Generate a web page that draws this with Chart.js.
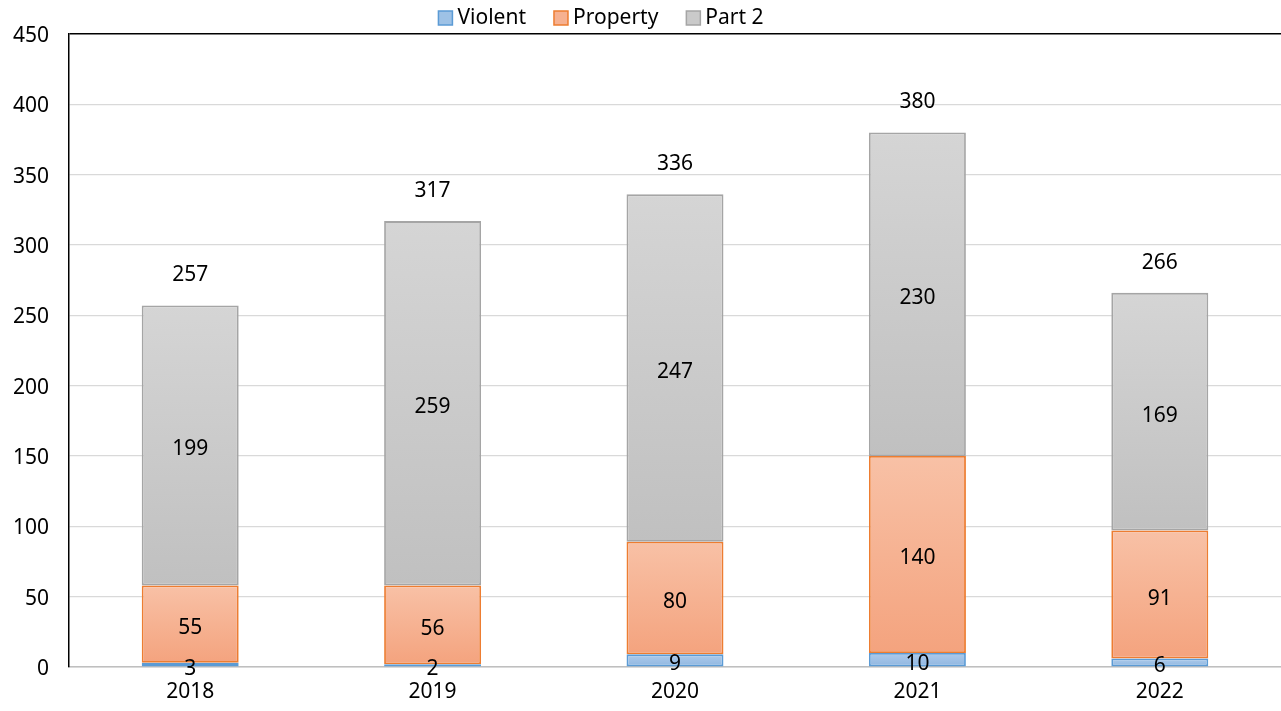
<!DOCTYPE html>
<html>
<head>
<meta charset="utf-8">
<script src="https://cdn.jsdelivr.net/npm/chart.js@4.4.0/dist/chart.umd.min.js"></script>
<style>
  html, body { margin: 0; background: #fff; }
</style>
</head>
<body>
<canvas id="chart" width="1281" height="711"></canvas>
<script>
// données
const years = ['2018', '2019', '2020', '2021', '2022'];
const violent = [3, 2, 9, 10, 6];
const property = [55, 56, 80, 140, 91];
const part2 = [199, 259, 247, 230, 169];
const yTicks = [0, 50, 100, 150, 200, 250, 300, 350, 400, 450];

const FONT = '"Noto Sans", "Open Sans", sans-serif';
const FONT_SIZE = 21;

// dégradé vertical par barre (haut clair -> bas plus foncé)
function barGradient(top, bottom, flat) {
    return function (context) {
        const chart = context.chart;
        const y = chart.scales.y;
        if (!y || context.type !== 'data') return flat;
        const i = context.dataIndex;
        const d = context.datasetIndex;
        let start = 0;
        for (let k = 0; k < d; k++) start += chart.data.datasets[k].data[i];
        const end = start + chart.data.datasets[d].data[i];
        const y0 = y.getPixelForValue(end);
        const y1 = y.getPixelForValue(start);
        if (!isFinite(y0) || !isFinite(y1) || y0 === y1) return flat;
        const g = chart.ctx.createLinearGradient(0, y0, 0, y1);
        g.addColorStop(0, top);
        g.addColorStop(1, bottom);
        return g;
    };
}

// légende dessinée à la main (espacement type Excel)
const legendPlugin = {
    id: 'excelLegend',
    afterDraw(chart) {
        const ctx = chart.ctx;
        const items = chart.data.datasets.map(ds => ({
            text: ds.label, fill: ds.legendColor, stroke: ds.borderColor
        }));
        ctx.save();
        ctx.font = FONT_SIZE + 'px ' + FONT;
        ctx.textBaseline = 'middle';
        const box = 14, gapText = 5, gapItem = 28;
        let total = 0;
        items.forEach((it, idx) => {
            it.w = ctx.measureText(it.text).width;
            total += box + gapText + it.w + (idx < items.length - 1 ? gapItem : 0);
        });
        let x = 601 - total / 2;
        const cy = 18;
        items.forEach(it => {
            ctx.fillStyle = it.fill;
            ctx.fillRect(x, cy - box / 2, box, box);
            ctx.strokeStyle = it.stroke;
            ctx.lineWidth = 1.5;
            ctx.strokeRect(x, cy - box / 2, box, box);
            ctx.fillStyle = '#000';
            ctx.textAlign = 'left';
            ctx.fillText(it.text, x + box + gapText, cy);
            x += box + gapText + it.w + gapItem;
        });
        ctx.restore();
    }
};

// étiquettes de valeurs au centre des segments et totaux au-dessus
const labelsPlugin = {
    id: 'barLabels',
    afterDatasetsDraw(chart) {
        const ctx = chart.ctx;
        ctx.save();
        ctx.font = FONT_SIZE + 'px ' + FONT;
        ctx.fillStyle = '#000';
        ctx.textAlign = 'center';
        ctx.textBaseline = 'middle';
        chart.data.datasets.forEach((ds, d) => {
            const meta = chart.getDatasetMeta(d);
            meta.data.forEach((bar, i) => {
                const cy = (bar.y + bar.base) / 2;
                ctx.fillText(String(ds.data[i]), bar.x, cy + 4);
            });
        });
        const lastMeta = chart.getDatasetMeta(chart.data.datasets.length - 1);
        lastMeta.data.forEach((bar, i) => {
            const total = violent[i] + property[i] + part2[i];
            ctx.fillText(String(total), bar.x, bar.y - 30);
        });
        ctx.restore();
    }
};

new Chart(document.getElementById('chart').getContext('2d'), {
    type: 'bar',
    data: {
        labels: years,
        datasets: [
            {
                label: 'Violent',
                data: violent,
                backgroundColor: barGradient('#aecbeb', '#8fb6e0', '#9ec2e6'),
                legendColor: '#9ec2e6',
                borderColor: '#5b9bd5',
                borderWidth: 1.8,
                borderSkipped: false
            },
            {
                label: 'Property',
                data: property,
                backgroundColor: barGradient('#f8c1a6', '#f4a37e', '#f6b191'),
                legendColor: '#f6b191',
                borderColor: '#ed7d31',
                borderWidth: 1.8,
                borderSkipped: false
            },
            {
                label: 'Part 2',
                data: part2,
                backgroundColor: barGradient('#d5d5d5', '#c0c0c0', '#cacaca'),
                legendColor: '#cacaca',
                borderColor: '#a5a5a5',
                borderWidth: 1.8,
                borderSkipped: false
            }
        ]
    },
    options: {
        responsive: false,
        animation: false,
        layout: { padding: { top: 34, right: 0, left: 0, bottom: 0 } },
        datasets: {
            bar: { barPercentage: 0.4, categoryPercentage: 1.0 }
        },
        plugins: {
            legend: { display: false },
            tooltip: { enabled: false }
        },
        scales: {
            x: {
                stacked: true,
                grid: { display: false },
                border: { color: '#bfbfbf', width: 1.5 },
                ticks: {
                    color: '#000',
                    font: { family: FONT, size: FONT_SIZE },
                    padding: 4
                },
                afterFit(scale) { scale.height = 44; }
            },
            y: {
                stacked: true,
                min: 0,
                max: 450,
                afterBuildTicks(scale) {
                    scale.ticks = yTicks.map(v => ({ value: v }));
                },
                grid: {
                    drawTicks: false,
                    color: ctx => (ctx.tick && ctx.tick.value === 450 ? '#000' : '#d9d9d9'),
                    lineWidth: ctx => (ctx.tick && ctx.tick.value === 450 ? 1.5 : 1.2)
                },
                border: { color: '#000', width: 1.5 },
                ticks: {
                    color: '#000',
                    font: { family: FONT, size: FONT_SIZE },
                    padding: 20,
                    labelOffset: 2
                },
                afterFit(scale) { scale.width = 69; }
            }
        }
    },
    plugins: [labelsPlugin, legendPlugin]
});
</script>
</body>
</html>
